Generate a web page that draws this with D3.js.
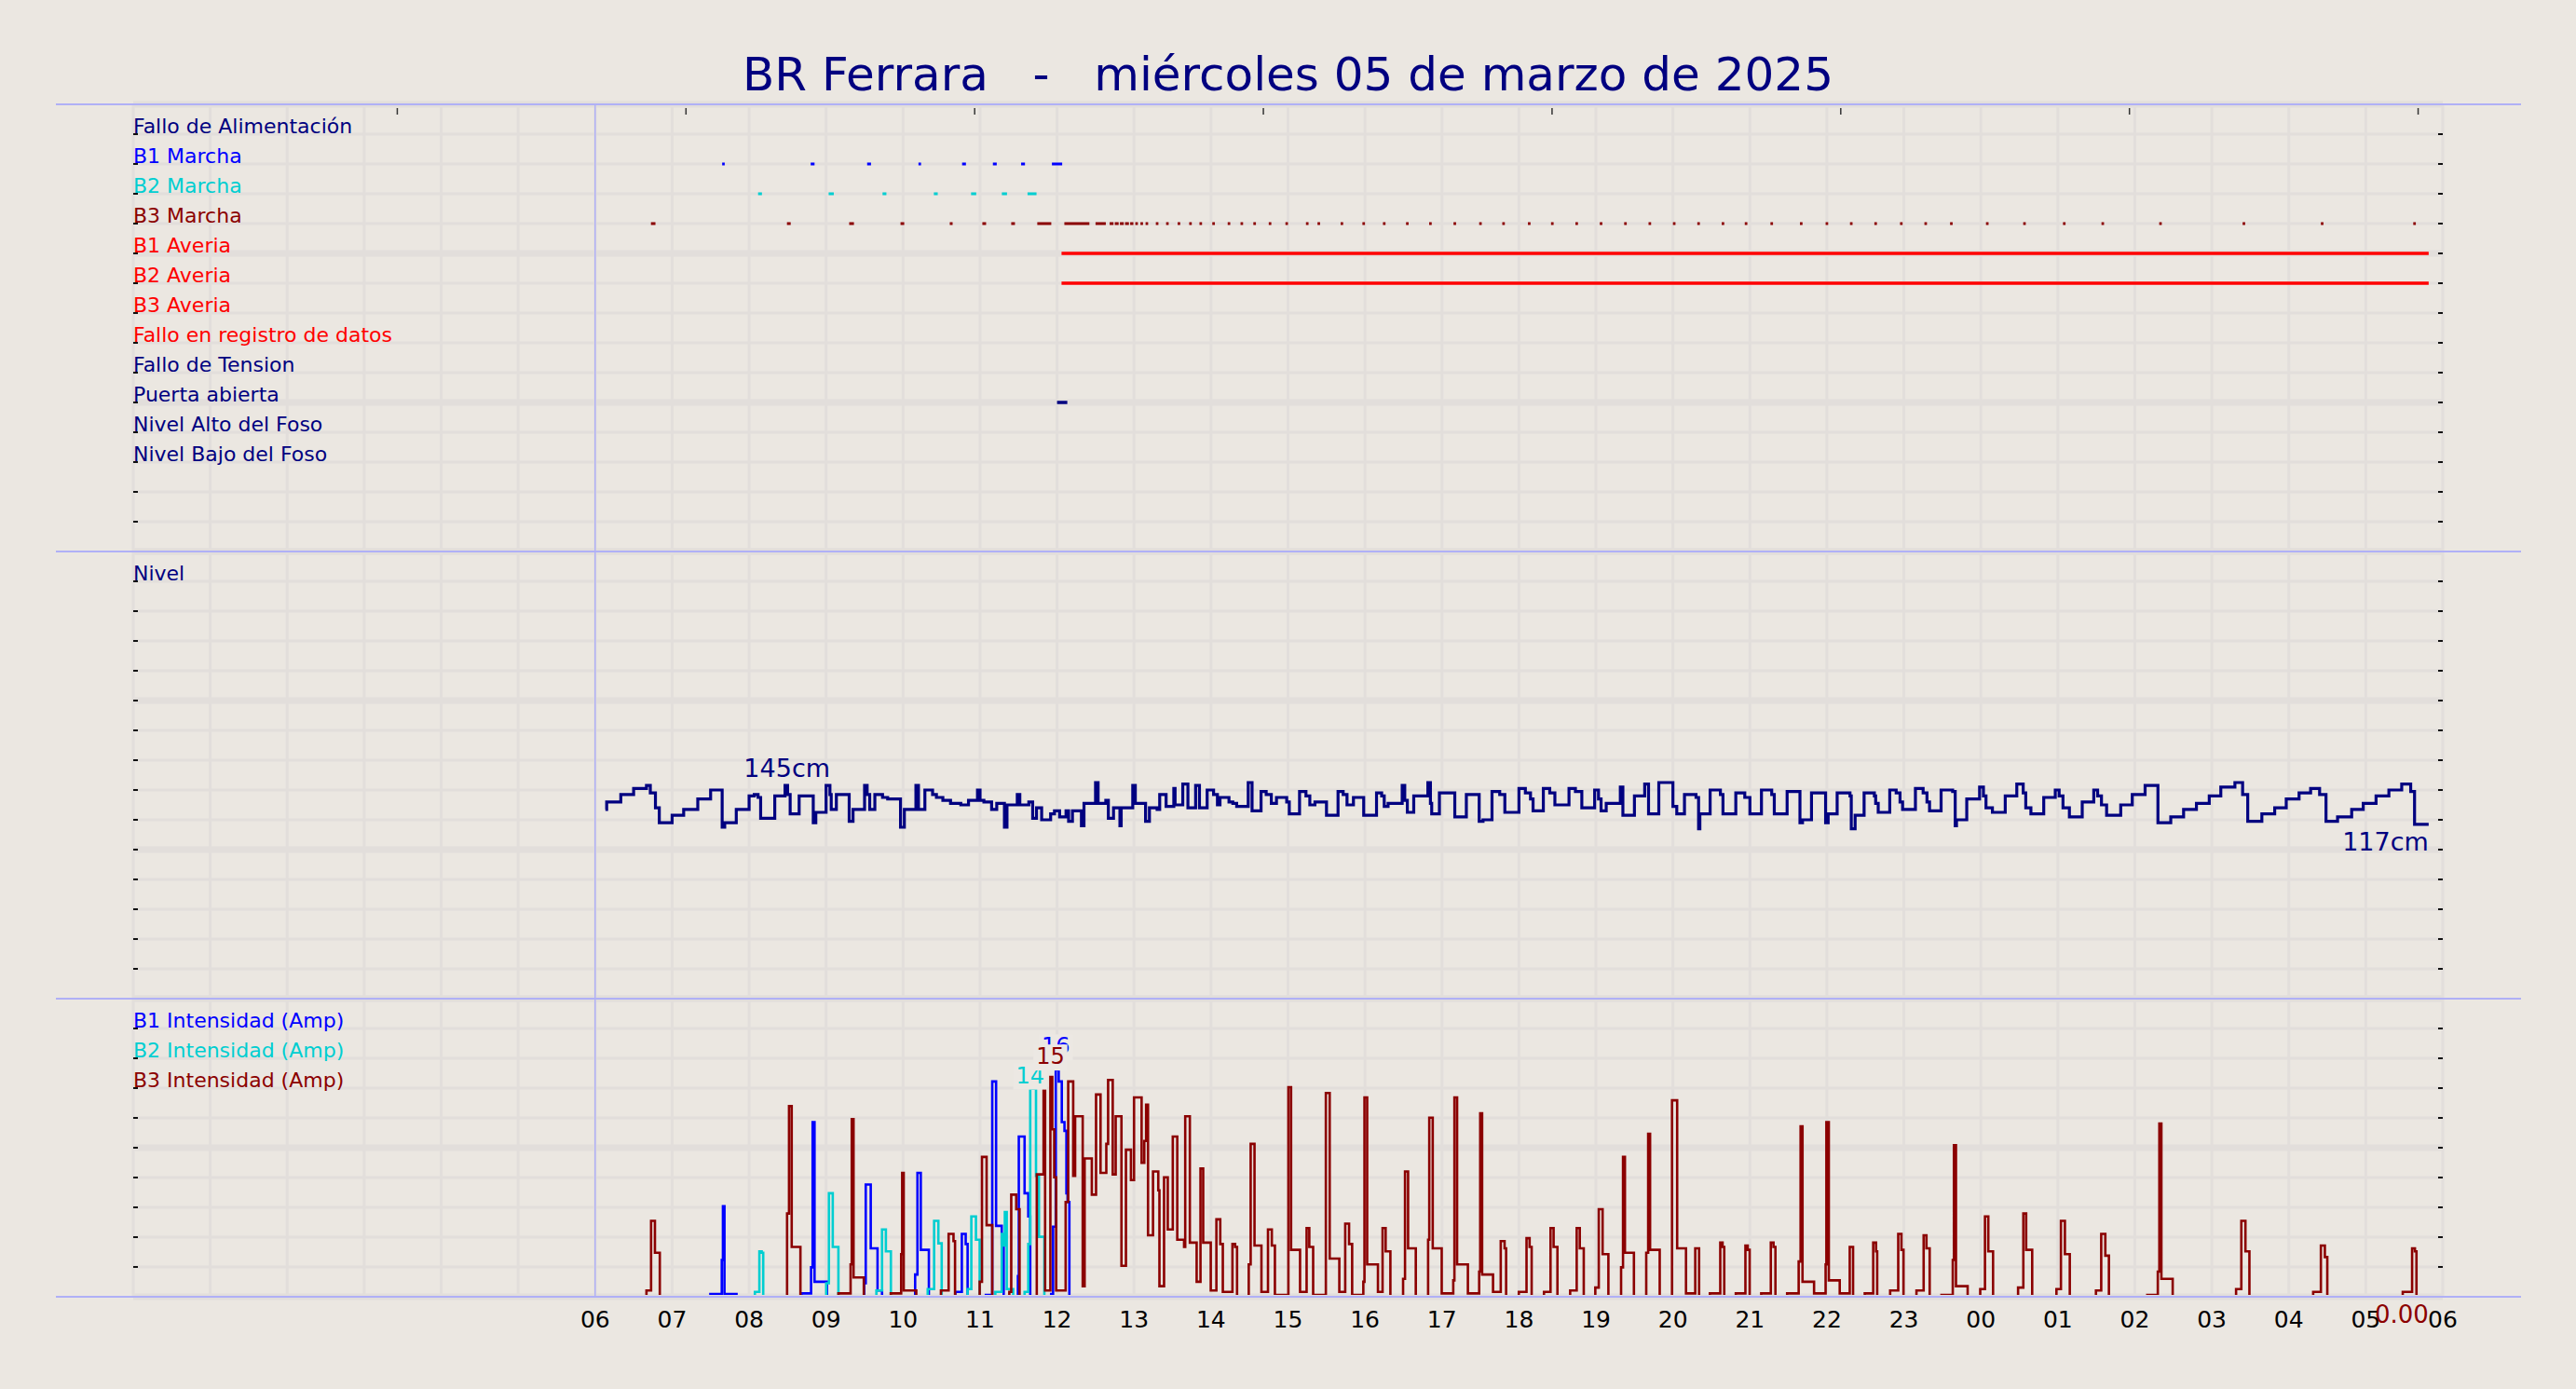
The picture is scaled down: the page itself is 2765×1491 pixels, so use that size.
<!DOCTYPE html>
<html><head><meta charset="utf-8">
<script src="https://cdn.jsdelivr.net/npm/d3@7"></script>
<style>
html,body{margin:0;padding:0;background:#ebe7e1;overflow:hidden;}
svg{display:block;font-family:"DejaVu Sans",sans-serif;}
</style></head><body>
<svg id="c" width="2765" height="1491"></svg>
<script>
// ---------------- DATA ----------------
const titleText = "BR Ferrara   -   miércoles 05 de marzo de 2025";
const hourTickStart = "2025-03-05T06:00";
const rowLabels = ["Fallo de Alimentación","B1 Marcha","B2 Marcha","B3 Marcha","B1 Averia","B2 Averia","B3 Averia","Fallo en registro de datos","Fallo de Tension","Puerta abierta","Nivel Alto del Foso","Nivel Bajo del Foso"];
const rowColors = ["#000080","#0000ff","#00ced1","#8b0000","#ff0000","#ff0000","#ff0000","#ff0000","#000080","#000080","#000080","#000080"];
const legendLabels = ["B1 Intensidad (Amp)","B2 Intensidad (Amp)","B3 Intensidad (Amp)"];
const seriesColors = ["#0000ff","#00ced1","#8b0000"];
const topTickHours = [3.43, 7.18, 10.93, 14.68, 18.43, 22.18, 25.93, 29.68];

// event intervals, minutes after 06:00
const evB1Marcha = [[99,101],[168,171],[212,215],[252,254],[286,289],[310,313],[332,335],[356,364]];
const evB2Marcha = [[127,130],[182,186],[224,227],[264,267],[293,297],[317,321],[337,344]];
const evB3Marcha = [[43.5,47],[149.5,152.4],[198,201.7],[238,240.9],[276.4,278.6],[301.8,304.7],[324.3,327.2],[344.6,355.5],
 [365.7,385.2],[390,398],[401,404],[405,408],[409,412],[413,416],[417,419.5],[421,423],[425,427],[429,431],
 [437,439],[445,447],[454,456],[463,465],[471,473],[481,483],[493,495],[503,505],[513,515],[525,527],[538,540],
 [554,556],[563,565],[581,583],[598,600],[614,616],[632,634],[650,652],[669,671],[689,691],[707,709],[727,729],
 [745,747],[764,766],[783,785],[802,804],[821,823],[840,842],[859,861],[878,880],[896,898],[916,918],[939,941],
 [959,961],[978,980],[997,999],[1017,1019],[1036,1038],[1056,1058],[1084,1086],[1113,1115],[1144,1146],[1174,1176],
 [1219,1221],[1284,1286],[1345,1347],[1417,1419]];
const evB1Averia = [[363.5,1429]];
const evB2Averia = [[363.5,1429]];
const evPuerta = [[360,368]];

// level (cm), [minutes after 06:00, value]
const levelData = [[8,127],[9,132],[20,137],[30,141],[40,143],[43,138],[47,128],[50,118],[60,123],[69,127],[80,134],[90,140],[99,115],[101,118],[110,127],[120,136],[124,137],[127,135],[129,121],[140,136],[148,143],[150,137],[152,124],[159,136],[170,118],[172,125],[180,143],[183,137],[184,127],[188,137],[198,119],[201,127],[210,143],[212,137],[214,127],[218,137],[224,135],[228,134],[238,115],[241,127],[250,143],[252,127],[257,140],[263,137],[266,135],[271,133],[277,131],[285,130],[291,133],[298,140],[300,133],[303,132],[309,127],[313,131],[319,115],[321,130],[329,137],[331,130],[338,132],[341,121],[344,128],[348,120],[355,124],[358,126],[362,122],[367,126],[369,119],[372,126],[379,116],[381,131],[390,145],[392,131],[398,133],[400,121],[404,128],[409,116],[410,128],[419,143],[421,131],[429,119],[432,128],[438,127],[440,137],[445,129],[451,141],[452,130],[458,144],[462,128],[468,143],[471,128],[477,140],[482,137],[485,130],[487,135],[494,132],[497,131],[500,129],[509,145],[512,126],[519,139],[523,137],[527,131],[531,135],[539,132],[541,124],[549,139],[554,136],[557,130],[561,132],[570,123],[579,139],[583,137],[586,130],[591,135],[599,123],[609,138],[613,136],[615,129],[618,131],[629,143],[631,133],[633,125],[638,136],[649,145],[651,131],[652,124],[658,138],[670,122],[679,137],[689,119],[692,120],[699,139],[705,137],[709,125],[720,141],[725,138],[729,134],[731,126],[739,141],[744,138],[748,130],[759,141],[764,139],[769,128],[779,140],[782,134],[784,126],[788,131],[799,142],[801,123],[810,136],[818,144],[821,124],[829,145],[840,129],[843,124],[849,137],[858,135],[860,114],[861,124],[869,140],[877,137],[879,124],[889,138],[896,135],[900,124],[909,140],[917,137],[919,124],[929,139],[939,118],[941,120],[948,138],[959,118],[961,124],[968,138],[978,136],[979,114],[982,123],[989,138],[997,136],[998,131],[1000,125],[1009,140],[1014,138],[1017,132],[1019,127],[1029,141],[1035,138],[1038,132],[1040,126],[1049,140],[1058,139],[1060,116],[1061,120],[1069,134],[1079,142],[1082,136],[1084,128],[1089,125],[1099,136],[1108,144],[1113,138],[1115,128],[1119,124],[1129,135],[1138,140],[1141,136],[1144,128],[1149,122],[1159,132],[1168,140],[1171,136],[1174,130],[1178,123],[1189,130],[1198,137],[1208,143],[1218,118],[1228,122],[1238,127],[1248,131],[1258,136],[1267,142],[1278,145],[1284,137],[1288,119],[1299,124],[1309,128],[1318,134],[1328,138],[1337,141],[1344,137],[1349,119],[1358,122],[1369,127],[1378,131],[1388,136],[1398,140],[1408,144],[1415,139],[1418,117],[1429,117]];
const levelLabelTime = 149.5;

// intensities (A), [minutes after 06:00, value]
const b1Data = [[8,0],[89.8,0.15],[98.7,2.5],[99.6,6.2],[100.8,0.15],[110.2,0],
 [160.9,0.2],[168.3,2.0],[169.5,12.0],[171,1.0],[180.7,0],
 [209.7,0.9],[210.9,7.7],[214.8,3.3],[220.1,0.4],[223.6,0],
 [249.4,1.5],[251.2,8.5],[253.8,3.2],[260.1,0],
 [280.8,0.3],[285.8,4.3],[288.8,3.6],[290.3,0],
 [304.5,0.1],[309.5,14.8],[312.5,4.85],[316.9,3.6],[318.4,0],
 [329.5,1.4],[330.2,11.0],[334.7,7.1],[337.6,5.5],[339.1,0],
 [355.4,0.15],[356.9,4.8],[359,15.6],[361.3,14.8],[363.7,12.0],[365.8,11.4],[367.3,7.1],[368.2,6.5],[369.6,0],[1429,0]];
const b2Data = [[8,0],[124.5,0.3],[128,3.1],[129.8,3.0],[131,0],
 [180.1,0.9],[182.2,7.1],[185.2,3.4],[189.6,0],
 [219.2,0.4],[223.6,4.6],[226.6,3.1],[230.5,0],
 [259.2,0.5],[264.2,5.2],[267.5,3.65],[270.1,0],
 [290.3,0.5],[293.2,5.5],[296.8,3.9],[299.7,0],
 [311.9,0.3],[316.9,4.3],[318,3.5],[319.3,5.8],[320.8,0.5],[325.8,0],
 [334.7,0.3],[337.6,3.6],[339.1,14.3],[343.6,8.3],[345.9,4.1],[350.1,0],[1429,0]];
const b3Data = [[8,0],[40,0.4],[43.6,5.2],[46.6,3.0],[50.4,0],
 [149.6,5.7],[151.1,13.1],[153.2,3.4],[160,0],
 [189.6,0.2],[199.1,2.2],[200,12.2],[201.4,1.3],[209.4,0],
 [230.4,0.2],[238.5,2.9],[239.3,8.5],[240.5,0.4],[250.3,0],
 [269.5,0.4],[275.5,4.3],[279.3,3.8],[280.5,0],
 [299.7,1.0],[301.5,9.6],[305.1,4.9],[309.5,0],
 [322.8,0.3],[324.3,7.0],[328.2,6.0],[330.8,0],
 [344.2,8.4],[349.5,14.2],[350.7,0.4],[354.8,15.1],[356.3,11.5],[357.8,8.2],[359.3,0.4],[366.7,6.5],[368.7,14.8],[372.6,8.3],[374.1,12.4],[380,0.7],[381.5,9.5],[387.1,7.0],[390.4,13.9],[393.9,8.5],[398.4,10.5],[399.8,14.9],[403.4,8.4],[405.7,12.4],[410.2,2.1],[413.7,10.1],[417.6,8.0],[420,13.7],[425.9,9.2],[428,10.7],[429.4,13.2],[430.9,4.2],[434.8,8.6],[438.9,7.3],[439.8,0.7],[443.4,8.2],[446.3,4.6],[450.2,11.0],[453.7,3.9],[459,3.4],[459.9,12.4],[463.5,3.7],[468.8,1.0],[471.8,8.8],[473.9,3.7],[479.8,0.4],[484.2,5.3],[487.2,3.6],[489.2,0.3],[496.7,3.6],[498.8,3.4],[500.3,0],
 [509.4,2.2],[510.9,10.5],[513.9,3.5],[519.3,0.3],[524.4,4.6],[527.4,3.5],[529.8,0.1],[540.3,14.4],[542.4,3.2],[549.4,0.3],[554.5,4.7],[556.6,3.4],[559.6,0.1],[569.5,14.0],[572.5,2.6],[580,0.3],[584.6,5.0],[587.6,3.6],[590,0.1],[598.7,1.0],[599.6,13.7],[601.7,2.2],[610.1,0.3],[613.7,4.7],[616.1,3.1],[619.8,0],
 [629.7,1.2],[631.2,8.6],[633.6,3.3],[639.6,0],[649.2,3.9],[650.1,12.3],[652.8,3.3],[659.8,0.2],[668.8,1.1],[669.7,13.7],[671.8,2.2],[680.2,0.2],[689,1.7],[689.8,12.6],[691.3,1.5],[699.8,0.3],[705.8,3.8],[708.8,3.3],[710,0],
 [719.9,0.3],[725.9,4.0],[728.3,3.4],[729.9,0],[739.5,0.3],[744.6,4.7],[747,3.4],[750,0],[759.9,0.4],[765,4.7],[767.4,3.3],[770.5,0],[779.5,0.6],[782.2,6.0],[785.2,2.9],[789.7,0],[799.6,2.0],[801.1,9.6],[802.6,3.0],[809.6,0],[819.2,3.0],[820.7,11.2],[822.2,3.2],[829.7,0],[839.3,13.5],[843.3,3.3],[850.2,0.2],[857.4,3.3],[860.4,0],[868.8,0.2],[876.9,3.7],[878.7,3.4],[880,0],[889,0.2],[896.5,3.5],[898.3,3.2],[899.8,0],[908.8,0.2],[916.3,3.7],[918.4,3.4],[919.9,0],[929,0.2],[938,2.4],[939.5,11.7],[941,1.0],[950,0.2],[959,2.2],[959.6,12.0],[961.5,1.1],[970,0.2],[977.8,3.4],[980.4,0],[989.5,0.2],[996.1,3.7],[998.3,3.1],[999.2,0],[1009.3,0.4],[1015.6,4.3],[1018.1,3.2],[1019.7,0],[1029.8,0.4],[1035.4,4.2],[1037.6,3.3],[1040.1,0],[1049.3,0.1],[1058.1,2.5],[1059,10.4],[1060.6,0.7],[1069.7,0],[1079.5,0.5],[1083.2,5.5],[1085.8,3.1],[1089.5,0],[1109,0.6],[1113.1,5.7],[1115.3,3.2],[1120,0],[1138.9,0.5],[1142.4,5.2],[1145.5,2.9],[1149.3,0],[1169.7,0.4],[1173.8,4.3],[1177,2.8],[1179.8,0],[1209.7,0.1],[1217.9,1.7],[1219.1,11.9],[1220.7,1.2],[1229.5,0],[1278.9,0.5],[1283,5.2],[1286.2,3.1],[1289.3,0],[1339,0.3],[1345,3.5],[1348.1,2.7],[1350,0],[1408.8,0.3],[1416.1,3.3],[1418.3,3.1],[1419.5,0],[1429,0]];

// ---------------- DRAW ----------------
const bg = "#ebe7e1", gridC = "#e2dedb", sepC = "#b0b0f6", navy = "#000080";
const W = 2765, H = 1491;
const t0 = new Date(2025,2,5,0,0), t1 = new Date(2025,2,6,6,0);
const base = new Date(hourTickStart);
const T = m => new Date(base.getTime() + m*60000);

const x = d3.scaleTime().domain([t0,t1]).range([143,2622]);
const y1 = d3.scaleLinear().domain([0,15]).range([112,592]);      // event rows
const y2 = d3.scaleLinear().domain([0,300]).range([1072,592]);    // level cm
const g3 = d3.scaleLinear().domain([0,10]).range([1392,1072]);    // panel 3 grid
const y3 = d3.scaleLinear().domain([0,20.5]).range([1391.5,1072]);  // amps

const svg = d3.select("#c");
svg.append("rect").attr("width",W).attr("height",H).attr("fill",bg);

const [X0,X1] = x.range();
// vertical grid
const hours = d3.timeHour.range(t0, d3.timeHour.offset(t1,1));
svg.append("g").selectAll("line").data(hours).join("line")
  .attr("x1",d=>x(d)).attr("x2",d=>x(d)).attr("y1",y1(0)).attr("y2",g3(0))
  .attr("stroke",gridC).attr("stroke-width",3);

// horizontal grids
const hg = svg.append("g");
function hgrid(vals, sc, thickFn){
  hg.selectAll(null).data(vals).join("line")
    .attr("x1",X0).attr("x2",X1).attr("y1",d=>sc(d)).attr("y2",d=>sc(d))
    .attr("stroke",gridC).attr("stroke-width",d=>thickFn(d)?7:3);
}
hgrid(d3.range(0,16), y1, d=>d%5===0);
hgrid(d3.range(0,301,20), y2, d=>d%100===0);
hgrid(d3.range(0,11), g3, d=>d%5===0);

// y ticks left & right
const tk = svg.append("g");
function yticks(vals, sc){
  [[X0,X0+5],[X1-5,X1]].forEach(([a,b])=>{
    tk.selectAll(null).data(vals).join("line")
      .attr("x1",a).attr("x2",b).attr("y1",d=>sc(d)).attr("y2",d=>sc(d))
      .attr("stroke","#111").attr("stroke-width",2);
  });
}
yticks(d3.range(1,15), y1);
yticks(d3.range(20,300,20), y2);
yticks(d3.range(1,10), g3);

// top ticks
svg.append("g").selectAll("line").data(topTickHours).join("line")
  .attr("x1",d=>x(new Date(t0.getTime()+d*3600000))).attr("x2",d=>x(new Date(t0.getTime()+d*3600000)))
  .attr("y1",y1(0)+4).attr("y2",y1(0)+11).attr("stroke","#333").attr("stroke-width",1.5);

// title
svg.append("text").attr("x",W/2).attr("y",97).attr("text-anchor","middle")
  .attr("xml:space","preserve").style("white-space","pre")
  .attr("font-size",50).attr("fill",navy).text(titleText);

// row labels
svg.append("g").selectAll("text").data(rowLabels).join("text")
  .attr("x",X0).attr("y",(d,i)=>y1(i+1)-1).attr("font-size",22)
  .attr("fill",(d,i)=>rowColors[i]).text(d=>d);

// events
const events = [
  {row:1, data:evB1Marcha, color:rowColors[1], w:3},
  {row:2, data:evB2Marcha, color:rowColors[2], w:3},
  {row:3, data:evB3Marcha, color:rowColors[3], w:3},
  {row:4, data:evB1Averia, color:rowColors[4], w:3.5},
  {row:5, data:evB2Averia, color:rowColors[5], w:3.5},
  {row:9, data:evPuerta, color:rowColors[9], w:3.5}
];
const ev = svg.append("g");
events.forEach(e=>{
  ev.selectAll(null).data(e.data).join("line")
    .attr("x1",d=>x(T(d[0]))).attr("x2",d=>x(T(d[1])))
    .attr("y1",y1(e.row+1)).attr("y2",y1(e.row+1))
    .attr("stroke",e.color).attr("stroke-width",e.w);
});

// panel 2: level
svg.append("text").attr("x",X0).attr("y",y2(280)-1).attr("font-size",22).attr("fill",navy).text("Nivel");
const stepLine = (sc)=>d3.line().curve(d3.curveStepAfter).x(d=>x(T(d[0]))).y(d=>sc(d[1]));
svg.append("path").datum(levelData).attr("d",stepLine(y2))
  .attr("fill","none").attr("stroke",navy).attr("stroke-width",3.2).attr("stroke-linejoin","miter");
const lvMax = d3.max(levelData,d=>d[1]);
const lvLast = levelData[levelData.length-1];
svg.append("text").attr("x",x(T(levelLabelTime))).attr("y",y2(lvMax)-6).attr("text-anchor","middle")
  .attr("font-size",27).attr("fill",navy).text(lvMax+"cm");
svg.append("text").attr("x",x(T(lvLast[0]))).attr("y",y2(lvLast[1])+28).attr("text-anchor","end")
  .attr("font-size",27).attr("fill",navy).text(lvLast[1]+"cm");

// panel 3: intensities
svg.append("defs").append("clipPath").attr("id","clip3").append("rect")
  .attr("x",X0).attr("y",g3(10)).attr("width",X1-X0).attr("height",1390-g3(10));
svg.append("g").selectAll("text").data(legendLabels).join("text")
  .attr("x",X0).attr("y",(d,i)=>g3(9-i)-1).attr("font-size",22)
  .attr("fill",(d,i)=>seriesColors[i]).text(d=>d);
const series = [b1Data,b2Data,b3Data];
const sg = svg.append("g").attr("clip-path","url(#clip3)");
series.forEach((s,i)=>{
  sg.append("path").datum(s).attr("d",stepLine(y3))
    .attr("fill","none").attr("stroke",seriesColors[i]).attr("stroke-width",2.6);
});
// max labels (draw order B1, B2, B3)
const maxOffsets = [17,6,14];
series.forEach((s,i)=>{
  const m = s.reduce((a,b)=>b[1]>a[1]?b:a);
  const g = svg.append("g");
  const t = g.append("text").attr("x",x(T(m[0]))).attr("y",y3(m[1])-maxOffsets[i])
    .attr("text-anchor","middle").attr("font-size",24).attr("fill",seriesColors[i])
    .text(d3.format(".0f")(m[1]));
  const bb = t.node().getBBox();
  g.insert("rect","text").attr("x",bb.x-3).attr("y",bb.y+1).attr("width",bb.width+6).attr("height",bb.height)
    .attr("fill","#ece8e3");
});

// separators
svg.append("g").selectAll("line").data([y1(0),y1(15),g3(10),g3(0)]).join("line")
  .attr("x1",60).attr("x2",2706).attr("y1",d=>d).attr("y2",d=>d)
  .attr("stroke",sepC).attr("stroke-width",2);
svg.append("line").attr("x1",x(base)).attr("x2",x(base)).attr("y1",y1(0)).attr("y2",g3(0))
  .attr("stroke",sepC).attr("stroke-width",1.5);

// x axis labels
const labHours = d3.timeHour.range(base, d3.timeHour.offset(t1,1));
svg.append("g").selectAll("text").data(labHours).join("text")
  .attr("x",d=>x(d)).attr("y",1425).attr("text-anchor","middle")
  .attr("font-size",25).attr("fill","#000").text(d=>d3.timeFormat("%H")(d));
// B3 last-value label (on top of axis labels, as in the reference)
const b3Last = b3Data[b3Data.length-1];
svg.append("text").attr("x",x(T(b3Last[0]))).attr("y",1420).attr("text-anchor","end")
  .attr("font-size",26).attr("fill",seriesColors[2]).text(d3.format(".2f")(b3Last[1]));
</script>
</body></html>
